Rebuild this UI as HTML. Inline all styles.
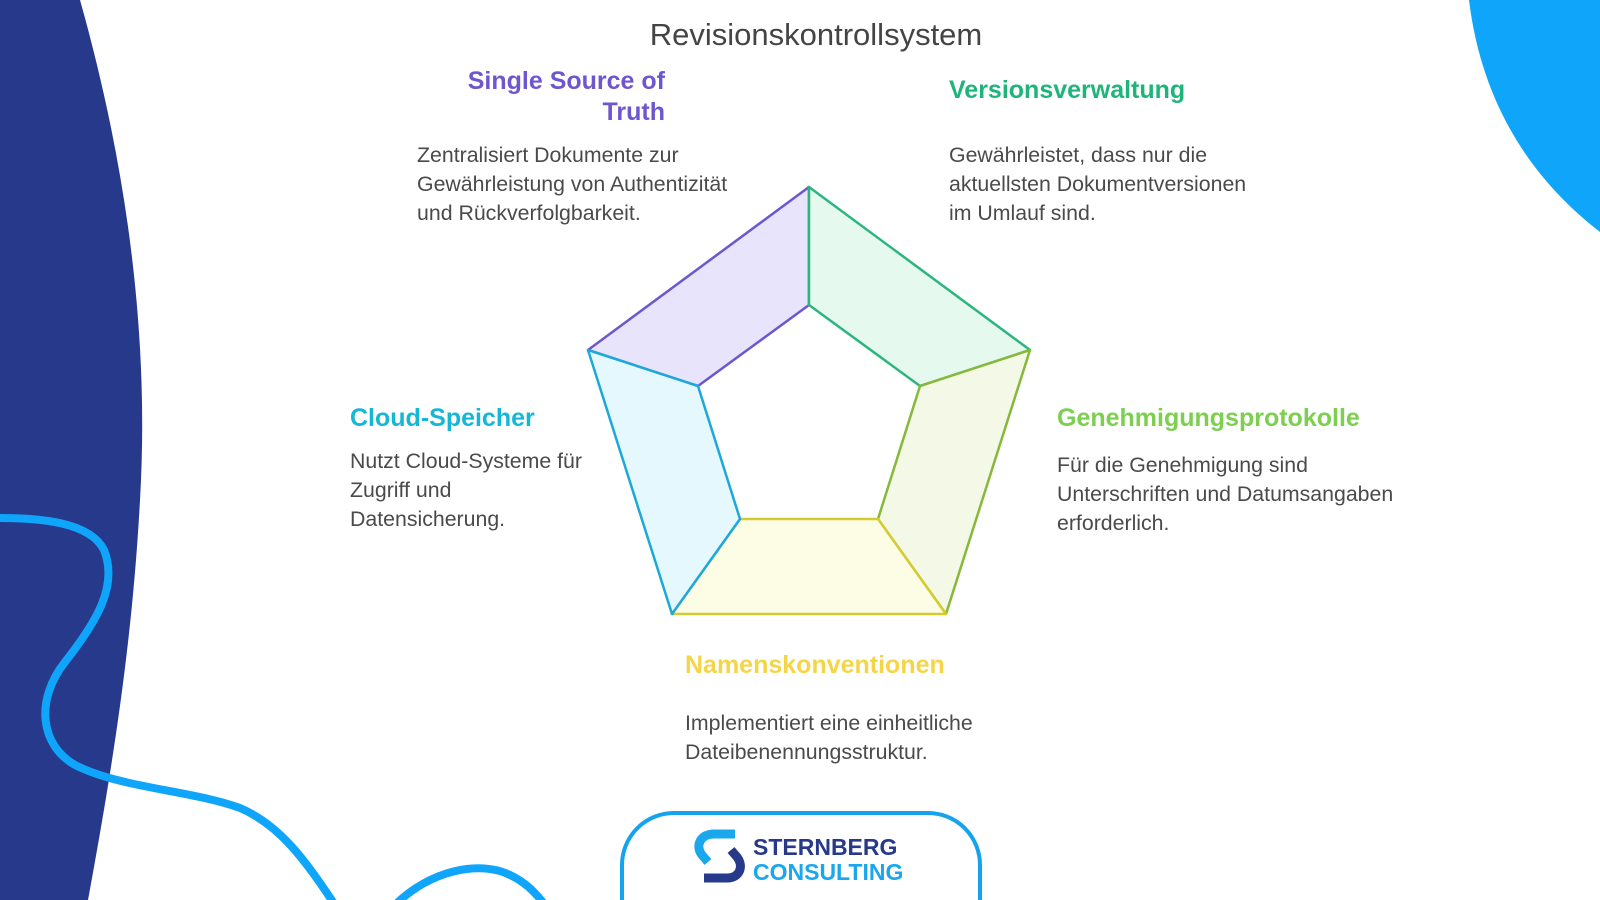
<!DOCTYPE html>
<html><head><meta charset="utf-8"><style>
html,body{margin:0;padding:0;width:1600px;height:900px;overflow:hidden;background:#fff;font-family:"Liberation Sans",sans-serif;}
.t{position:absolute;white-space:nowrap;}
.h{font-weight:bold;font-size:25px;}
.b{font-size:21.3px;color:#4a4a4a;line-height:29px;}
</style></head><body>
<svg width="1600" height="900" style="position:absolute;left:0;top:0">
<path d="M0 0 L80 0 C125 160 150 330 140 500 C132 650 110 780 88 900 L0 900 Z" fill="#27398b"/>
<path d="M1469 0 C1480 90 1520 170 1600 232 L1600 0 Z" fill="#0ea5fa"/>
<path d="M0 518 C40 518 90 522 104 550 C118 585 98 620 65 662 C35 700 40 745 75 765 C120 788 190 790 240 808 C280 825 305 860 335 905" fill="none" stroke="#0ea5fa" stroke-width="8"/>
<path d="M395 905 C430 870 480 860 510 875 C525 882 535 892 545 905" fill="none" stroke="#0ea5fa" stroke-width="8"/>
<g stroke-width="2.5" stroke-linejoin="round">
<polygon points="809,187 809,305 698,386 588,350" fill="#e8e4fb" stroke="#6e56cf"/>
<polygon points="809,187 1030,350 920,386 809,305" fill="#e6f9ee" stroke="#2bb57f"/>
<polygon points="1030,350 946,614 878,519 920,386" fill="#f3f9e6" stroke="#86b83a"/>
<polygon points="946,614 672,614 740,519 878,519" fill="#fdfce4" stroke="#d4cb2e"/>
<polygon points="672,614 588,350 698,386 740,519" fill="#e4f8fd" stroke="#1ca8d8"/>
</g>
<rect x="622" y="813" width="358" height="140" rx="52" fill="#fff" stroke="#14a3ec" stroke-width="4"/>
<path d="M735 834 L714 834 C700 834 695 846 702 855 L708 862" fill="none" stroke="#1aa7ec" stroke-width="9"/>
<path d="M704 878 L727 878 C740 878 744 866 737 857 L731 850" fill="none" stroke="#27398b" stroke-width="9"/>
</svg>
<div class="t" style="left:0;width:1632px;text-align:center;top:17px;font-size:31px;color:#444">Revisionskontrollsystem</div>
<div class="t h" style="right:935px;top:66px;text-align:right;color:#6e56cf;line-height:31px">Single Source of<br>Truth</div>
<div class="t b" style="left:417px;top:141px">Zentralisiert Dokumente zur<br>Gewährleistung von Authentizität<br>und Rückverfolgbarkeit.</div>
<div class="t h" style="left:949px;top:76px;color:#1fb57a">Versionsverwaltung</div>
<div class="t b" style="left:949px;top:141px">Gewährleistet, dass nur die<br>aktuellsten Dokumentversionen<br>im Umlauf sind.</div>
<div class="t h" style="left:350px;top:404px;color:#14b8d6">Cloud-Speicher</div>
<div class="t b" style="left:350px;top:447px">Nutzt Cloud-Systeme für<br>Zugriff und<br>Datensicherung.</div>
<div class="t h" style="left:1057px;top:404px;color:#7ccf4f">Genehmigungsprotokolle</div>
<div class="t b" style="left:1057px;top:451px">Für die Genehmigung sind<br>Unterschriften und Datumsangaben<br>erforderlich.</div>
<div class="t h" style="left:685px;top:651px;color:#f5d547">Namenskonventionen</div>
<div class="t b" style="left:685px;top:709px">Implementiert eine einheitliche<br>Dateibenennungsstruktur.</div>
<div class="t" style="left:753px;top:835px;font-weight:bold;font-size:23px;color:#27398b;line-height:25px">STERNBERG<br><span style="color:#1aa7ec">CONSULTING</span></div>
</body></html>
